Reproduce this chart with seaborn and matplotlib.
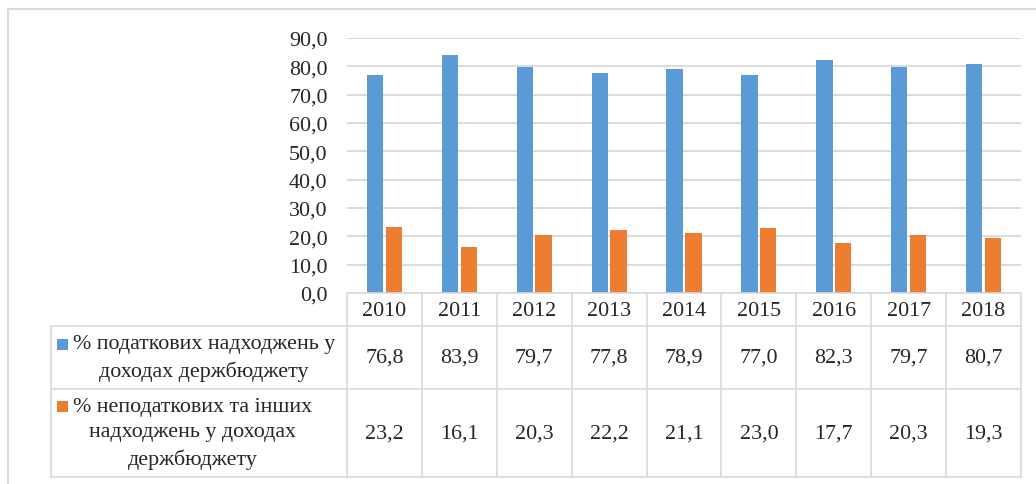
import matplotlib
matplotlib.use("Agg")
import matplotlib.pyplot as plt
import matplotlib.transforms as mtransforms
from matplotlib.lines import Line2D
from matplotlib.patches import Rectangle
import seaborn as sns
import pandas as pd

# ---- data ----
years = ["2010", "2011", "2012", "2013", "2014", "2015", "2016", "2017", "2018"]
tax_share = [76.8, 83.9, 79.7, 77.8, 78.9, 77.0, 82.3, 79.7, 80.7]
nontax_share = [23.2, 16.1, 20.3, 22.2, 21.1, 23.0, 17.7, 20.3, 19.3]
series_labels = [
    "% податкових надходжень у\nдоходах держбюджету",
    "% неподаткових та інших\nнадходжень у доходах\nдержбюджету",
]
series_keys = ["tax", "nontax"]
colors = ["#5B9BD5", "#ED7D31"]
y_ticks = [0, 10, 20, 30, 40, 50, 60, 70, 80, 90]

sns.set_style("white")
plt.rcParams["font.family"] = ["Liberation Serif", "DejaVu Serif"]

W, H = 1036, 485
fig = plt.figure(figsize=(W / 100, H / 100), dpi=100)
fig.patch.set_facecolor("white")

def fx(px):
    return px / W

def fy(py):
    return 1 - py / H

ax_left, ax_right, ax_top, ax_bottom = 347, 1021, 39, 294
ax = fig.add_axes([fx(ax_left), fy(ax_bottom), fx(ax_right - ax_left), (ax_bottom - ax_top) / H])

df = pd.DataFrame({
    "year": years * 2,
    "value": tax_share + nontax_share,
    "series": [series_keys[0]] * len(years) + [series_keys[1]] * len(years),
})

sns.barplot(data=df, x="year", y="value", hue="series", order=years,
            hue_order=series_keys, palette=colors, width=0.5, gap=0.13,
            linewidth=0, saturation=1, legend=False, ax=ax, errorbar=None)

ax.set_ylim(0, 90)
ax.set_xlim(-0.5, len(years) - 0.5)
ax.set_yticks(y_ticks)
ax.set_yticklabels([f"{t:.1f}".replace(".", ",") for t in y_ticks], fontsize=15.8)
ax.tick_params(axis="y", length=0, pad=14)
ax.set_xticks([])
ax.set_xlabel("")
ax.set_ylabel("")
for s in ax.spines.values():
    s.set_visible(False)
ax.yaxis.grid(True, color="#d9d9d9", linewidth=1.3)
ax.set_axisbelow(True)

grid_c = "#d9d9d9"
lw = 1.2
trans = mtransforms.blended_transform_factory(ax.transData, fig.transFigure)

# outer chart border
fig.add_artist(Line2D([fx(8), fx(8)], [fy(10), fy(485)], color=grid_c, lw=1.5, transform=fig.transFigure))
fig.add_artist(Line2D([fx(8), fx(1036)], [fy(10), fy(10)], color=grid_c, lw=1.5, transform=fig.transFigure))

# table geometry
row_h = [294, 327, 390, 478]
tab_left = 51
# horizontal lines
fig.add_artist(Line2D([fx(ax_left), fx(ax_right)], [fy(row_h[0])] * 2, color=grid_c, lw=lw, transform=fig.transFigure))
for yy in row_h[1:]:
    fig.add_artist(Line2D([fx(tab_left), fx(ax_right)], [fy(yy)] * 2, color=grid_c, lw=lw, transform=fig.transFigure))
# vertical lines
for i in range(len(years) + 1):
    fig.add_artist(Line2D([i - 0.5, i - 0.5], [fy(row_h[0]), fy(row_h[-1])], color=grid_c, lw=lw, transform=trans))
fig.add_artist(Line2D([fx(tab_left), fx(tab_left)], [fy(row_h[1]), fy(row_h[-1])], color=grid_c, lw=lw, transform=fig.transFigure))

fs = 15.8
line_px = 27
# header years
for i, yr in enumerate(years):
    fig.text(i, fy(311), yr, transform=trans, ha="center", va="center", fontsize=fs)
# values
for r, vals in enumerate([tax_share, nontax_share]):
    yc = (row_h[r + 1] + row_h[r + 2]) / 2
    for i, v in enumerate(vals):
        fig.text(i, fy(yc), f"{v:.1f}".replace(".", ","), transform=trans,
                 ha="center", va="center", fontsize=fs)
    # legend text, one line at a time for exact spacing
    lines = series_labels[r].split("\n")
    n_lines = len(lines)
    block = "\n".join(lines)
    fig.text(fx(73), fy(yc), block, ha="left", va="center", multialignment="center",
             fontsize=fs, linespacing=1.45, transform=fig.transFigure)
    # legend key
    first_line_y = yc - (n_lines - 1) * line_px / 2
    fig.add_artist(Rectangle((fx(57), fy(first_line_y + 5.5)), fx(11), 11 / H,
                             facecolor=colors[r], edgecolor="none", transform=fig.transFigure))

fig.savefig("out.png", dpi=100)
